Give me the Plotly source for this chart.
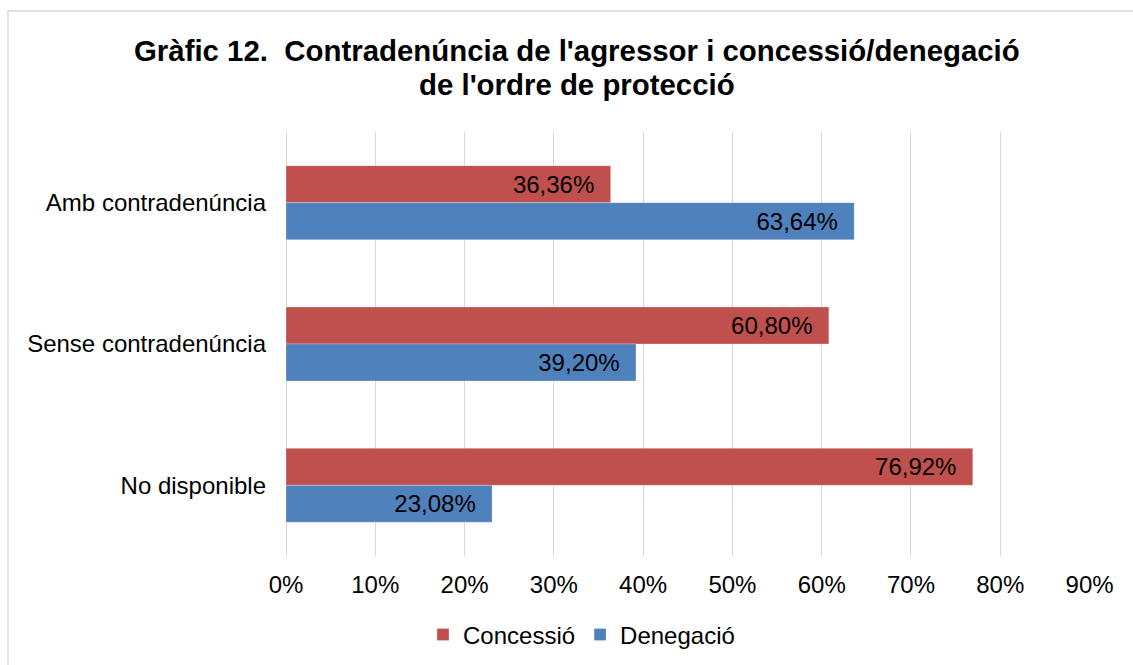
import plotly.graph_objects as go

W, H = 1133, 665

categories = ["Amb contradenúncia", "Sense contradenúncia", "No disponible"]
concessio = [36.36, 60.80, 76.92]
denegacio = [63.64, 39.20, 23.08]
series_names = ["Concessió", "Denegació"]
x_ticks = [0, 10, 20, 30, 40, 50, 60, 70, 80, 90]
x_tick_labels = ["0%", "10%", "20%", "30%", "40%", "50%", "60%", "70%", "80%", "90%"]
title_lines = ["Gràfic 12.\u00a0\u00a0Contradenúncia de l'agressor i concessió/denegació",
               "de l'ordre de protecció"]

RED = "#C0504D"
BLUE = "#4F81BD"
GRID = "#D9D9D9"
FONT = "Liberation Sans, Arial, sans-serif"
FS = 24

ML, MR, MT, MB = 286, 43, 132, 109
PW = W - ML - MR
PH = H - MT - MB

fig = go.Figure()
for name, vals, col in [(series_names[0], concessio, RED), (series_names[1], denegacio, BLUE)]:
    fig.add_trace(go.Bar(
        name=name,
        y=categories,
        x=vals,
        orientation="h",
        marker=dict(color=col, line=dict(color="rgba(255,255,255,0.35)", width=0.8)),
        texttemplate="%{x:.2f}%\u00a0\u00a0",
        textposition="inside",
        insidetextanchor="end",
        textangle=0,
        constraintext="none",
        textfont=dict(family=FONT, size=FS, color="black"),
        hoverinfo="skip",
    ))


def px_x(p):
    return (p - ML) / PW


def px_y(p):
    return 1 - (p - MT) / PH


# outer chart frame
fig.add_shape(type="rect", xref="paper", yref="paper",
              x0=px_x(8), x1=px_x(W + 20), y0=px_y(H + 20), y1=px_y(11),
              line=dict(color=GRID, width=1.3), fillcolor="rgba(0,0,0,0)", layer="below")

# title (two centred lines)
for txt, yc in zip(title_lines, [50, 84]):
    fig.add_annotation(text="<b>" + txt + "</b>", xref="paper", yref="paper",
                       x=px_x(576.5), y=px_y(yc), xanchor="center", yanchor="middle",
                       showarrow=False, font=dict(family=FONT, size=29.4, color="black"))

fig.update_layout(
    width=W, height=H,
    margin=dict(l=ML, r=MR, t=MT, b=MB, autoexpand=False),
    paper_bgcolor="white", plot_bgcolor="white",
    separators=", ",
    barmode="group",
    bargap=0.4765,
    bargroupgap=0,
    font=dict(family=FONT, size=FS, color="black"),
    legend=dict(
        orientation="h",
        xref="container", yref="container",
        x=(443 - 20) / W, xanchor="left",
        y=1 - 635 / H, yanchor="middle",
        font=dict(family=FONT, size=FS, color="black"),
        traceorder="normal",
        bgcolor="rgba(0,0,0,0)",
    ),
    xaxis=dict(
        range=[0, 90.05],
        tickvals=x_ticks, ticktext=x_tick_labels,
        showgrid=True, gridcolor=GRID, gridwidth=1,
        zeroline=True, zerolinecolor=GRID, zerolinewidth=1,
        showline=False, ticks="",
        ticklabelstandoff=12,
        tickfont=dict(family=FONT, size=FS, color="black"),
        fixedrange=True,
    ),
    yaxis=dict(
        autorange="reversed",
        categoryorder="array", categoryarray=categories,
        showgrid=False, zeroline=False, showline=False, ticks="",
        ticklabelstandoff=19,
        tickfont=dict(family=FONT, size=FS, color="black"),
        fixedrange=True,
    ),
    showlegend=True,
)

fig.write_html("out.html", config={"displayModeBar": False},
               post_script="document.body.style.margin='0px';")
